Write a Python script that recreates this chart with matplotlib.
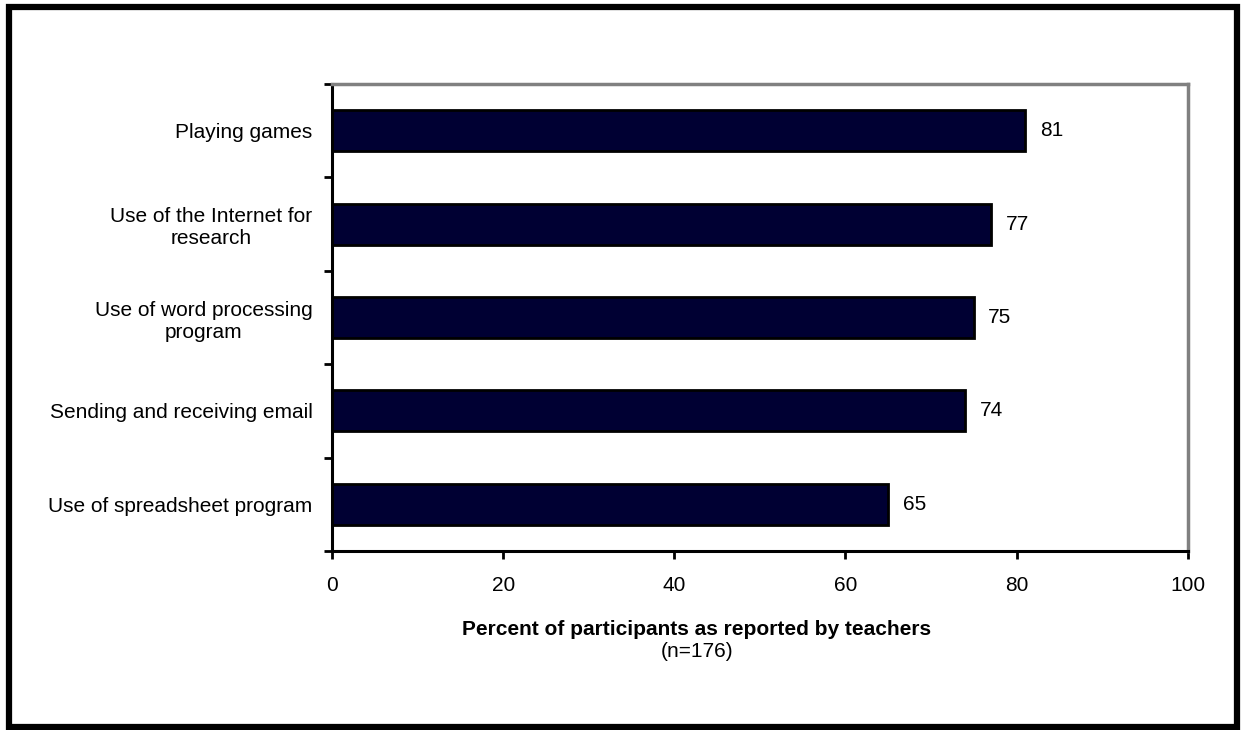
import numpy as np
import matplotlib.pyplot as plt
from matplotlib.patches import Rectangle

plt.rcParams['font.family'] = ['Liberation Sans', 'DejaVu Sans']

categories = ['Playing games',
              'Use of the Internet for\nresearch',
              'Use of word processing\nprogram',
              'Sending and receiving email',
              'Use of spreadsheet program']
values = [81, 77, 75, 74, 65]
xticks = [0, 20, 40, 60, 80, 100]

fig = plt.figure(figsize=(12.41, 7.30), dpi=100)
ax = fig.add_axes([0.2675, 0.2452, 0.6896, 0.6397])

y = np.arange(len(categories))
ax.barh(y, values, height=0.44, color='#000033', edgecolor='black', linewidth=2)

for yi, v in zip(y, values):
    ax.text(v + 1.7, yi, str(v), va='center', ha='left', fontsize=15)

ax.set_xlim(0, 100)
ax.set_ylim(len(categories) - 0.5, -0.5)
ax.set_xticks(xticks)
ax.set_xticklabels([str(t) for t in xticks], fontsize=15)

# category labels, ticks sit on the boundaries between bars
ax.set_yticks(y)
ax.set_yticklabels(categories, fontsize=15, multialignment='center')
ax.tick_params(axis='y', length=0, pad=14)
ax.set_yticks(np.arange(-0.5, len(categories) + 0.5, 1), minor=True)
ax.tick_params(axis='y', which='minor', length=6, width=2, direction='out')
ax.tick_params(axis='x', length=6, width=2, direction='out', pad=12)

for side in ['left', 'bottom']:
    ax.spines[side].set_color('black')
    ax.spines[side].set_linewidth(2.2)
for side in ['top', 'right']:
    ax.spines[side].set_color('#808080')
    ax.spines[side].set_linewidth(2.5)

fig.text(0.5615, 0.138, 'Percent of participants as reported by teachers',
         ha='center', va='center', fontsize=15, fontweight='bold')
fig.text(0.5615, 0.107, '(n=176)', ha='center', va='center', fontsize=15)

# outer frame
fig.patches.append(Rectangle((0.00725, 0.0041), 0.9895, 0.9863, transform=fig.transFigure,
                             fill=False, edgecolor='black', linewidth=4.5))

fig.savefig('out.png', dpi=100)
